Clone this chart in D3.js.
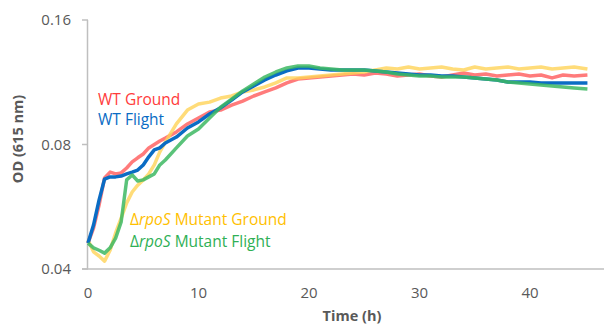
<!DOCTYPE html>
<html>
<head>
<meta charset="utf-8">
<script src="https://cdn.jsdelivr.net/npm/d3@7"></script>
<style>
  body { margin: 0; background: #fff; }
  text { font-family: "Open Sans", sans-serif; }
</style>
</head>
<body>
<div id="chart"></div>
<script>

// data (time in hours, OD at 615 nm)
const hours = [0,0.5,1,1.5,2,2.5,3,3.5,4,4.5,5,5.5,6,6.5,7,
  8,9,10,11,12,13,14,15,16,17,18,19,20,21,
  22,23,24,25,26,27,28,29,30,31,32,33,34,35,36,37,38,39,40,41,42,43,44,45.2];

const wtGround = [0.0462,0.0502,0.0571,0.0664,0.0686,0.0679,0.0683,0.0702,0.0726,0.0743,0.0759,0.0785,0.0800,0.0816,0.0829,
  0.0858,0.0897,0.0927,0.0959,0.0969,0.0996,0.1019,0.1048,0.1072,0.1096,0.1127,0.1152,0.1159,0.1165,
  0.1172,0.1178,0.1185,0.1178,0.1191,0.1185,0.1172,0.1178,0.1185,0.1172,0.1165,0.1178,0.1191,0.1178,0.1185,0.1172,0.1178,0.1185,0.1172,0.1178,0.1159,0.1178,0.1172,0.1178];

const wtFlight = [0.0462,0.0511,0.0587,0.0660,0.0668,0.0668,0.0671,0.0679,0.0686,0.0694,0.0714,0.0747,0.0776,0.0785,0.0807,
  0.0834,0.0877,0.0907,0.0948,0.0981,0.1025,0.1072,0.1108,0.1146,0.1178,0.1205,0.1225,0.1225,0.1218,
  0.1211,0.1211,0.1211,0.1211,0.1205,0.1198,0.1191,0.1185,0.1178,0.1178,0.1172,0.1172,0.1165,0.1159,0.1152,0.1146,0.1133,0.1133,0.1133,0.1127,0.1127,0.1127,0.1127,0.1127];

const mutGround = [0.0470,0.0440,0.0430,0.0418,0.0444,0.0489,0.0531,0.0578,0.0614,0.0638,0.0657,0.0679,0.0714,0.0768,0.0811,
  0.0897,0.0969,0.1002,0.1013,0.1036,0.1048,0.1072,0.1084,0.1102,0.1127,0.1159,0.1159,0.1165,0.1172,
  0.1178,0.1185,0.1191,0.1198,0.1211,0.1225,0.1218,0.1232,0.1218,0.1225,0.1232,0.1218,0.1211,0.1232,0.1218,0.1225,0.1232,0.1218,0.1225,0.1232,0.1218,0.1225,0.1232,0.1218];

const mutFlight = [0.0462,0.0450,0.0444,0.0437,0.0450,0.0475,0.0520,0.0657,0.0675,0.0653,0.0657,0.0668,0.0679,0.0714,0.0734,
  0.0785,0.0839,0.0872,0.0927,0.0985,0.1030,0.1078,0.1120,0.1165,0.1198,0.1225,0.1238,0.1238,0.1225,
  0.1218,0.1211,0.1211,0.1211,0.1205,0.1198,0.1185,0.1178,0.1172,0.1172,0.1165,0.1165,0.1165,0.1159,0.1152,0.1146,0.1133,0.1127,0.1120,0.1114,0.1108,0.1102,0.1096,0.1090];

const yTicks = [0.04, 0.08, 0.16];
const xTicks = [0, 10, 20, 30, 40];

const W = 608, H = 325;

const svg = d3.select('#chart').append('svg')
  .attr('width', W)
  .attr('height', H);

const x = d3.scaleLinear().domain([0, 46.7]).range([88, 604]);
const y = d3.scaleLog().base(2).domain([0.04, 0.16]).range([269, 20]);

const axisCol = '#bfbfbf', labCol = '#595959';

// y axis line + ticks
svg.append('line')
  .attr('x1', 87.5).attr('x2', 87.5)
  .attr('y1', y(0.16)).attr('y2', y(0.04))
  .attr('stroke', axisCol).attr('stroke-width', 1.5);
svg.selectAll('line.ytick')
  .data(yTicks)
  .enter().append('line')
  .attr('class', 'ytick')
  .attr('x1', 82).attr('x2', 88)
  .attr('y1', d => y(d)).attr('y2', d => y(d))
  .attr('stroke', axisCol).attr('stroke-width', 1.5);
svg.selectAll('text.ylab')
  .data(yTicks)
  .enter().append('text')
  .attr('class', 'ylab')
  .attr('x', 71)
  .attr('y', d => y(d) + 5)
  .attr('text-anchor', 'end')
  .attr('font-size', 15)
  .attr('fill', labCol)
  .text(d => d3.format('.2f')(d));

// x axis
svg.append('line')
  .attr('x1', 82).attr('x2', 604)
  .attr('y1', y(0.04)).attr('y2', y(0.04))
  .attr('stroke', axisCol).attr('stroke-width', 1.5);
svg.selectAll('text.xlab')
  .data(xTicks)
  .enter().append('text')
  .attr('class', 'xlab')
  .attr('x', d => x(d))
  .attr('y', 298)
  .attr('text-anchor', 'middle')
  .attr('font-size', 15)
  .attr('fill', labCol)
  .text(d => d);

// titles
svg.append('text')
  .attr('x', 352).attr('y', 321)
  .attr('text-anchor', 'middle')
  .attr('font-size', 14.5)
  .attr('font-weight', 'bold')
  .attr('fill', labCol)
  .text('Time (h)');
svg.append('text')
  .attr('transform', 'translate(23,139) rotate(-90)')
  .attr('text-anchor', 'middle')
  .attr('font-size', 14.5)
  .attr('font-weight', 'bold')
  .attr('fill', labCol)
  .text('OD (615 nm)');

// lines
const series = [
  {vals: wtGround, col: '#ff5a5a', op: 0.8},
  {vals: mutGround, col: '#ffd357', op: 0.8},
  {vals: wtFlight, col: '#0a6cc4', op: 1},
  {vals: mutFlight, col: '#3db863', op: 0.85}
];

const line = d3.line()
  .x((d, i) => x(hours[i]))
  .y(d => y(d));

svg.selectAll('path.series')
  .data(series)
  .enter().append('path')
  .attr('class', 'series')
  .attr('d', d => line(d.vals))
  .attr('fill', 'none')
  .attr('stroke', d => d.col)
  .attr('stroke-opacity', d => d.op)
  .attr('stroke-width', 3.5)
  .attr('stroke-linejoin', 'round');

// labels
svg.append('text').attr('x', 98).attr('y', 105)
  .attr('font-size', 15.5).attr('fill', '#ff3b3b').text('WT Ground');
svg.append('text').attr('x', 98).attr('y', 125)
  .attr('font-size', 15.5).attr('fill', '#0a6cc4').text('WT Flight');

function mutantLabel(yy, col, word) {
  const t = svg.append('text').attr('x', 130).attr('y', yy)
    .attr('font-size', 15.5).attr('fill', col);
  t.append('tspan').text('\u0394');
  t.append('tspan').attr('font-style', 'italic').text('rpoS');
  t.append('tspan').text(' Mutant ' + word);
}
mutantLabel(225, '#ffc000', 'Ground');
mutantLabel(247, '#2fb055', 'Flight');

</script>
</body>
</html>
